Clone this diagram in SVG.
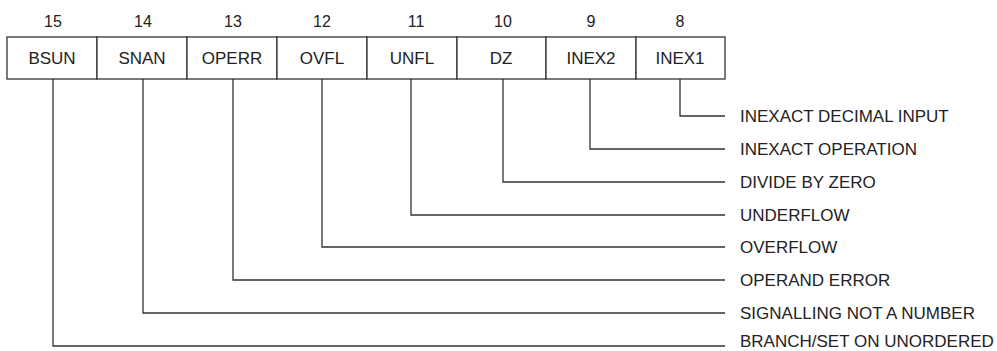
<svg xmlns="http://www.w3.org/2000/svg" width="997" height="351" viewBox="0 0 997 351">
<style>
.t{font-family:"Liberation Sans",Arial,sans-serif;font-size:17px;fill:#222}
.n{font-size:16px}
.c{text-anchor:middle}
.box{fill:#fff;stroke:#333;stroke-width:1.3}
.ln{fill:none;stroke:#333;stroke-width:1.3}
</style>
<rect width="997" height="351" fill="#fff"/>
<g id="bits">
<g id="bit15"><rect class="box" x="7" y="37" width="90" height="42"/><text class="t n c" x="53" y="27">15</text><text class="t c" x="52" y="64">BSUN</text></g>
<g id="bit14"><rect class="box" x="97" y="37" width="90" height="42"/><text class="t n c" x="143" y="27">14</text><text class="t c" x="142" y="64">SNAN</text></g>
<g id="bit13"><rect class="box" x="187" y="37" width="90" height="42"/><text class="t n c" x="233" y="27">13</text><text class="t c" x="232" y="64">OPERR</text></g>
<g id="bit12"><rect class="box" x="277" y="37" width="90" height="42"/><text class="t n c" x="322" y="27">12</text><text class="t c" x="322" y="64">OVFL</text></g>
<g id="bit11"><rect class="box" x="367" y="37" width="90" height="42"/><text class="t n c" x="416" y="27">11</text><text class="t c" x="412" y="64">UNFL</text></g>
<g id="bit10"><rect class="box" x="457" y="37" width="89" height="42"/><text class="t n c" x="503" y="27">10</text><text class="t c" x="501" y="64">DZ</text></g>
<g id="bit9"><rect class="box" x="546" y="37" width="90" height="42"/><text class="t n c" x="591" y="27">9</text><text class="t c" x="591" y="64">INEX2</text></g>
<g id="bit8"><rect class="box" x="636" y="37" width="89" height="42"/><text class="t n c" x="680" y="27">8</text><text class="t c" x="680" y="64">INEX1</text></g>
</g>
<g id="connectors">
<path class="ln" d="M680 79V116H725"/>
<path class="ln" d="M590 79V149H725"/>
<path class="ln" d="M503 79V182H725"/>
<path class="ln" d="M411 79V215H725"/>
<path class="ln" d="M322 79V247H725"/>
<path class="ln" d="M233 79V280H725"/>
<path class="ln" d="M143 79V313H725"/>
<path class="ln" d="M53 79V346H725"/>
</g>
<g id="labels">
<g id="l8"><text class="t" x="740" y="122">INEXACT DECIMAL INPUT</text></g>
<g id="l9"><text class="t" x="740" y="155">INEXACT OPERATION</text></g>
<g id="l10"><text class="t" x="740" y="188">DIVIDE BY ZERO</text></g>
<g id="l11"><text class="t" x="740" y="221">UNDERFLOW</text></g>
<g id="l12"><text class="t" x="740" y="253">OVERFLOW</text></g>
<g id="l13"><text class="t" x="740" y="286">OPERAND ERROR</text></g>
<g id="l14"><text class="t" x="740" y="319">SIGNALLING NOT A NUMBER</text></g>
<g id="l15"><text class="t" x="740" y="347">BRANCH/SET ON UNORDERED</text></g>
</g>
</svg>
